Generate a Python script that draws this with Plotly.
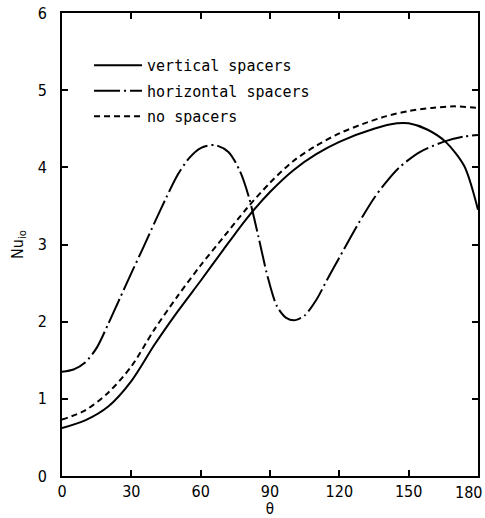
import plotly.graph_objects as go

# --- data ---
theta_vertical = [0, 10, 20, 30, 40, 50, 60, 70, 80, 90, 100, 110, 120, 135, 145, 150, 158, 166, 174, 180]
nu_vertical = [0.62, 0.72, 0.90, 1.23, 1.70, 2.13, 2.53, 2.94, 3.34, 3.68, 3.96, 4.17, 4.33, 4.50, 4.57, 4.57, 4.49, 4.33, 4.02, 3.45]

theta_horizontal = [0, 5, 10, 15, 20, 25, 30, 35, 40, 45, 50, 55, 60, 66, 72, 77, 81, 85, 89, 93, 97, 101,
                    105, 110, 115, 120, 125, 130, 135, 140, 146, 155, 166, 174, 180]
nu_horizontal = [1.35, 1.38, 1.47, 1.66, 1.97, 2.30, 2.63, 2.95, 3.28, 3.60, 3.90, 4.12, 4.25, 4.29, 4.20, 3.95,
                 3.60, 3.10, 2.58, 2.20, 2.05, 2.02, 2.08, 2.28, 2.56, 2.83, 3.10, 3.36, 3.60, 3.80, 4.00, 4.20,
                 4.34, 4.40, 4.42]

theta_none = [0, 10, 20, 30, 40, 50, 60, 70, 80, 90, 100, 110, 120, 130, 140, 150, 160, 170, 180]
nu_none = [0.73, 0.85, 1.08, 1.42, 1.90, 2.33, 2.73, 3.10, 3.47, 3.80, 4.08, 4.28, 4.44, 4.56, 4.66, 4.73, 4.77, 4.79, 4.77]

series_names = ["vertical spacers", "horizontal spacers", "no spacers"]
x_ticks = [0, 30, 60, 90, 120, 150, 180]
x_tick_labels = ["0", "30", "60", "90", "120", "150", "180"]
y_ticks = [0, 1, 2, 3, 4, 5, 6]

narrow = "Liberation Sans Narrow, DejaVu Sans Condensed, sans-serif"
tick_font = dict(family=narrow, size=16, color="black")

fig = go.Figure()
fig.add_trace(go.Scatter(x=theta_vertical, y=nu_vertical, mode="lines", name=series_names[0],
                         legendgroup="a", line=dict(color="black", width=2, shape="spline", smoothing=0.8)))
fig.add_trace(go.Scatter(x=theta_horizontal, y=nu_horizontal, mode="lines", name=series_names[1],
                         legendgroup="b", line=dict(color="black", width=2, shape="spline", smoothing=0.8,
                                                    dash="26px,4px,2px,4px")))
fig.add_trace(go.Scatter(x=theta_none, y=nu_none, mode="lines", name=series_names[2],
                         legendgroup="c", line=dict(color="black", width=2, shape="spline", smoothing=0.8,
                                                    dash="6px,4px")))

# last x tick label drawn as annotation so it stays inside the page (as in the reference)
shown_labels = x_tick_labels[:-1] + [""]
fig.add_annotation(x=x_ticks[-1], y=0, xref="x", yref="paper", text=x_tick_labels[-1],
                   showarrow=False, xanchor="right", yanchor="top", xshift=6, yshift=-5,
                   font=tick_font)

fig.update_layout(
    width=485, height=518,
    margin=dict(l=62, r=7, t=13, b=42),
    paper_bgcolor="white", plot_bgcolor="white",
    showlegend=True,
    legend=dict(x=0.065, y=0.922, xanchor="left", yanchor="top",
                font=dict(family="DejaVu Sans Mono, Liberation Mono, monospace", size=15, color="black"),
                bgcolor="rgba(0,0,0,0)", tracegroupgap=3, itemwidth=48),
    xaxis=dict(range=[0, 180], tickvals=x_ticks, ticktext=shown_labels, ticks="inside", ticklen=6, tickwidth=2,
               showline=True, linewidth=2, linecolor="black", mirror="allticks",
               showgrid=False, zeroline=False, tickfont=tick_font, tickcolor="black",
               automargin=False,
               title=dict(text="θ", font=dict(family=narrow, size=15, color="black"), standoff=6)),
    yaxis=dict(range=[0, 6], tickvals=y_ticks, ticks="inside", ticklen=6, tickwidth=2,
               showline=True, linewidth=2, linecolor="black", mirror="allticks",
               showgrid=False, zeroline=False, tickfont=tick_font, tickcolor="black",
               ticklabelstandoff=10, automargin=False,
               title=dict(text="Nu<sub>io</sub>", font=dict(family=narrow, size=16, color="black"), standoff=10)),
)

fig.write_html("out.html")
